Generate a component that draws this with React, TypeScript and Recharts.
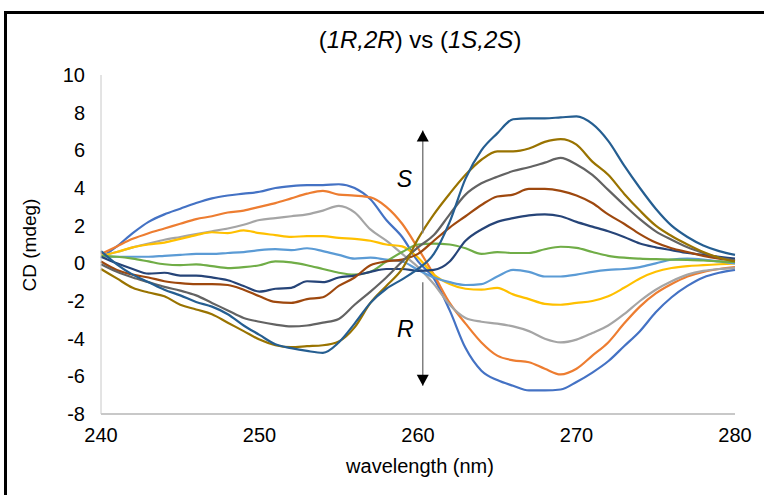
import { LineChart, Line, XAxis, YAxis, ReferenceLine, ReferenceDot } from 'recharts';

const wavelength = [
  240, 241, 242, 243, 244, 245, 246, 247, 248, 249, 250, 251, 252, 253, 254, 255, 256, 257, 258, 259, 260,
  261, 262, 263, 264, 265, 266, 267, 268, 269, 270, 271, 272, 273, 274, 275, 276, 277, 278, 279, 280,
];

// R-enriched samples (positive around 250 nm, negative around 268 nm)
const blue = [
  0.3, 0.9, 1.6, 2.2, 2.6, 2.9, 3.2, 3.45, 3.6, 3.7, 3.8, 4.0, 4.1, 4.15, 4.15, 4.2, 4.0, 3.4, 2.3, 1.4, 0.1,
  -0.8, -2.5, -4.5, -5.7, -6.2, -6.5, -6.75, -6.75, -6.7, -6.3, -5.8, -5.2, -4.4, -3.6, -2.6, -1.8, -1.2, -0.75, -0.5, -0.35,
];
const orange = [
  0.5, 0.9, 1.3, 1.6, 1.85, 2.1, 2.35, 2.5, 2.7, 2.8, 3.0, 3.2, 3.45, 3.7, 3.85, 3.65, 3.6, 3.5, 3.0, 2.1, 0.8,
  -0.6, -2.1, -3.2, -4.2, -4.9, -5.15, -5.25, -5.6, -5.9, -5.6, -4.9, -4.2, -3.2, -2.3, -1.6, -1.1, -0.7, -0.45, -0.3, -0.2,
];
const gray = [
  0.4, 0.6, 0.85, 1.05, 1.25, 1.4, 1.55, 1.7, 1.85, 2.05, 2.3, 2.4, 2.5, 2.6, 2.8, 3.05, 2.7, 1.8, 1.2, 0.5, -0.2,
  -1.1, -2.2, -2.9, -3.1, -3.2, -3.35, -3.6, -4.0, -4.2, -4.05, -3.7, -3.3, -2.7, -2.0, -1.4, -0.95, -0.6, -0.4, -0.3, -0.25,
];
const gold = [
  0.4, 0.6, 0.85, 1.0, 1.1, 1.3, 1.5, 1.65, 1.6, 1.75, 1.6, 1.5, 1.4, 1.45, 1.45, 1.35, 1.3, 1.2, 1.0, 0.9, 0.3,
  -0.6, -1.1, -1.35, -1.4, -1.3, -1.65, -1.9, -2.15, -2.2, -2.1, -2.0, -1.75, -1.3, -0.8, -0.45, -0.25, -0.15, -0.1, -0.05, 0.0,
];
const lightBlue = [
  0.35, 0.35, 0.35, 0.35, 0.4, 0.45, 0.5, 0.5, 0.55, 0.6, 0.7, 0.75, 0.7, 0.8, 0.65, 0.45, 0.25, 0.3, 0.2, 0.1, -0.35,
  -0.75, -1.0, -1.15, -1.1, -0.7, -0.35, -0.45, -0.7, -0.7, -0.6, -0.45, -0.35, -0.3, -0.2, 0.0, 0.2, 0.25, 0.2, 0.1, 0.0,
];
const green = [
  0.4, 0.35, 0.25, 0.1, -0.05, -0.1, -0.05, -0.15, -0.25, -0.2, -0.1, 0.1, 0.05, -0.1, -0.3, -0.5, -0.6, -0.45, 0.1, 0.6, 1.0,
  1.05, 1.0, 0.8, 0.5, 0.6, 0.55, 0.55, 0.75, 0.88, 0.82, 0.6, 0.4, 0.3, 0.25, 0.22, 0.2, 0.18, 0.15, 0.1, 0.07,
];
// S-enriched samples
const darkBlue = [
  0.35, 0.0, -0.3, -0.55, -0.5, -0.65, -0.65, -0.75, -0.9, -1.2, -1.5, -1.35, -1.3, -0.95, -1.0, -0.75, -0.65, -0.45, -0.3, -0.3, -0.4,
  -0.35, 0.1, 1.2, 1.8, 2.2, 2.4, 2.55, 2.6, 2.5, 2.2, 1.95, 1.7, 1.4, 1.05, 0.85, 0.7, 0.55, 0.45, 0.35, 0.25,
];
const brown = [
  0.1, -0.35, -0.6, -0.75, -0.95, -1.05, -1.1, -1.1, -1.15, -1.4, -1.75, -2.05, -2.1, -1.9, -1.8, -1.2, -0.75, -0.1, 0.1, 0.2, 0.5,
  1.2, 1.9, 2.5, 3.1, 3.55, 3.65, 3.95, 3.95, 3.85, 3.6, 3.2, 2.6, 2.1, 1.55, 1.1, 0.8, 0.6, 0.4, 0.25, 0.15,
];
const darkGray = [
  -0.05, -0.45, -0.75, -1.0, -1.25, -1.45, -1.7, -2.1, -2.5, -2.9, -3.1, -3.25, -3.35, -3.3, -3.15, -2.95, -2.2, -1.5, -0.75, 0.1, 0.85,
  1.5, 2.6, 3.65, 4.25, 4.6, 4.9, 5.1, 5.35, 5.6, 5.25, 4.7, 3.9, 3.1, 2.35, 1.7, 1.25, 0.85, 0.55, 0.3, 0.15,
];
const darkGold = [
  -0.3, -0.8, -1.3, -1.55, -1.75, -2.2, -2.45, -2.7, -3.15, -3.6, -4.05, -4.35, -4.45, -4.4, -4.35, -4.15, -3.4, -2.1, -1.2, -0.3, 1.3,
  2.6, 3.7, 4.7, 5.5, 5.95, 5.95, 6.1, 6.45, 6.6, 6.3, 5.4, 4.7, 3.7, 2.8, 2.0, 1.45, 1.0, 0.6, 0.3, 0.1,
];
const steelBlue = [
  0.65, -0.05, -0.6, -1.0, -1.4, -1.7, -2.05, -2.3, -2.7, -3.3, -3.8, -4.3, -4.5, -4.65, -4.75, -4.2, -3.2, -2.1, -1.35, -0.85, -0.3,
  0.5, 2.2, 4.5, 6.0, 6.9, 7.65, 7.7, 7.7, 7.75, 7.8, 7.4, 6.5, 5.2, 4.0, 2.9, 2.0, 1.4, 0.95, 0.65, 0.45,
];

const yTicks = [-8, -6, -4, -2, 0, 2, 4, 6, 8, 10];
const xTicks = [240, 250, 260, 270, 280];

const series = [
  { key: 'blue', values: blue, color: '#4472C4' },
  { key: 'orange', values: orange, color: '#ED7D31' },
  { key: 'gray', values: gray, color: '#A5A5A5' },
  { key: 'gold', values: gold, color: '#FFC000' },
  { key: 'lightBlue', values: lightBlue, color: '#5B9BD5' },
  { key: 'green', values: green, color: '#70AD47' },
  { key: 'darkBlue', values: darkBlue, color: '#264478' },
  { key: 'brown', values: brown, color: '#9E480E' },
  { key: 'darkGray', values: darkGray, color: '#636363' },
  { key: 'darkGold', values: darkGold, color: '#997300' },
  { key: 'steelBlue', values: steelBlue, color: '#255E91' },
];

// S / R arrow annotation (data coordinates)
const arrowX = 260.3;
const arrowUp = [1.6, 7.05];
const arrowDown = [-1.0, -6.5];

const data = wavelength.map((wl, i) => {
  const row: Record<string, number> = { wl };
  series.forEach((s) => (row[s.key] = s.values[i]));
  return row;
});

const FONT = '"Liberation Sans", Arial, Helvetica, sans-serif';

const Head = ({ cx, cy, up }: any) => {
  const d = up
    ? `M${cx},${cy} L${cx - 6},${cy + 11} L${cx + 6},${cy + 11} Z`
    : `M${cx},${cy} L${cx - 6},${cy - 11} L${cx + 6},${cy - 11} Z`;
  return <path d={d} fill="#000" />;
};

const Letter = ({ cx, cy, text }: any) => (
  <text x={cx} y={cy} textAnchor="middle" dominantBaseline="central" fontFamily={FONT} fontStyle="italic" fontSize={23} fill="#000">
    {text}
  </text>
);

export default function App() {
  return (
    <div style={{ position: 'fixed', left: 0, top: 0, width: 764, height: 495, background: '#fff', overflow: 'hidden' }}>
      <div style={{ position: 'absolute', left: 4, top: 11, width: 800, height: 520, border: '3px solid #000' }} />
      <div style={{ position: 'absolute', left: 0, width: 840, top: 25, textAlign: 'center', fontFamily: FONT, fontSize: 24, lineHeight: '30px', color: '#000' }}>
        (<i>1R,2R</i>) vs (<i>1S,2S</i>)
      </div>
      <div style={{ position: 'absolute', left: 30 - 60, top: 245 - 12, width: 120, textAlign: 'center', fontFamily: FONT, fontSize: 19, lineHeight: '24px', transform: 'rotate(-90deg)' }}>
        CD (mdeg)
      </div>
      <div style={{ position: 'absolute', left: 320, width: 200, top: 454, textAlign: 'center', fontFamily: FONT, fontSize: 20, lineHeight: '24px' }}>
        wavelength (nm)
      </div>
      <div style={{ position: 'absolute', left: 0, top: 0 }}>
        <LineChart width={764} height={495} data={data} margin={{ top: 75, right: 29, bottom: 51, left: 0 }}>
          <XAxis
            dataKey="wl"
            type="number"
            domain={[240, 280]}
            ticks={xTicks}
            tickLine={false}
            tickSize={0}
            tickMargin={14}
            height={30}
            stroke="#c8c8c8"
            strokeWidth={2}
            tick={{ fill: '#000', fontSize: 20, fontFamily: FONT }}
          />
          <YAxis
            type="number"
            domain={[-8, 10]}
            ticks={yTicks}
            interval={0}
            tickLine={false}
            tickSize={0}
            tickMargin={16}
            width={101}
            stroke="#c8c8c8"
            tick={{ fill: '#000', fontSize: 20, fontFamily: FONT }}
          />
          {series.map((s) => (
            <Line
              key={s.key}
              dataKey={s.key}
              type="monotone"
              stroke={s.color}
              strokeWidth={2.2}
              dot={false}
              isAnimationActive={false}
            />
          ))}
          <ReferenceLine segment={[{ x: arrowX, y: arrowUp[0] }, { x: arrowX, y: arrowUp[1] }]} stroke="#808080" strokeWidth={1.5} />
          <ReferenceLine segment={[{ x: arrowX, y: arrowDown[0] }, { x: arrowX, y: arrowDown[1] }]} stroke="#808080" strokeWidth={1.5} />
          <ReferenceDot x={arrowX} y={arrowUp[1]} shape={(p: any) => <Head {...p} up />} />
          <ReferenceDot x={arrowX} y={arrowDown[1]} shape={(p: any) => <Head {...p} />} />
          <ReferenceDot x={259.15} y={4.5} shape={(p: any) => <Letter {...p} text="S" />} />
          <ReferenceDot x={259.2} y={-3.5} shape={(p: any) => <Letter {...p} text="R" />} />
        </LineChart>
      </div>
    </div>
  );
}
